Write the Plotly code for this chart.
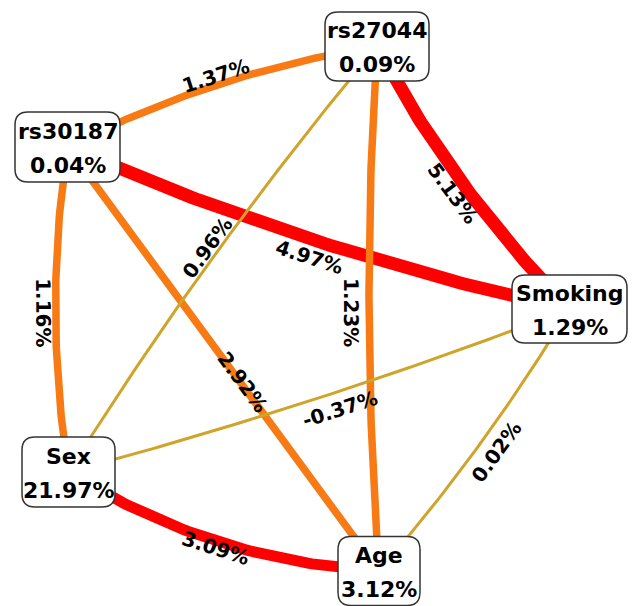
import numpy as np
import plotly.graph_objects as go

# ---------------- data ----------------
node_names = ["rs27044", "rs30187", "Smoking", "Sex", "Age"]
node_pct = [0.09, 0.04, 1.29, 21.97, 3.12]

edge_src = ["rs30187", "rs27044", "rs30187", "rs27044", "rs27044", "rs30187", "rs30187", "Smoking", "Smoking", "Sex"]
edge_dst = ["rs27044", "Smoking", "Smoking", "Sex", "Age", "Sex", "Age", "Sex", "Age", "Age"]
edge_pct = [1.37, 5.13, 4.97, 0.96, 1.23, 1.16, 2.92, -0.37, 0.02, 3.09]

# ---------------- layout (pixels) ----------------
W, H = 632, 606
node_x = [377, 67.5, 569.5, 68.5, 379]
node_y = [46.5, 147, 309, 472, 571]
node_w = [104, 105, 115, 93, 82]
node_h = [69, 70, 68, 70, 69]

edge_bulge = [-13, 12, 13, 9, 9, 12.5, 0, -7, -7, 21]
label_t = [0.5, 0.5, 0.5, 0.5, 0.506, 0.508, 0.557, 0.472, 0.49, 0.5]
label_off = [-9, 14, 17, 10, 18, 12.5, -2, -17, -18, 7]
edge_width = [7.5, 13, 13, 3, 7.5, 7.5, 7.5, 3, 3, 11]

RED, ORANGE, GOLD = "#FF0000", "#F77A14", "#CFA42B"


def edge_color(v):
    if v > 3:
        return RED
    if v > 1:
        return ORANGE
    return GOLD


FONT = "DejaVu Sans"

fig = go.Figure()

idx = {n: i for i, n in enumerate(node_names)}


def bez(p0, c, p2, t):
    t = np.asarray(t)[..., None]
    return (1 - t) ** 2 * p0 + 2 * t * (1 - t) * c + t ** 2 * p2


annotations = []
order = np.argsort([-w for w in edge_width], kind="stable")
for k in order:
    a, b = idx[edge_src[k]], idx[edge_dst[k]]
    p0 = np.array([node_x[a], node_y[a]], float)
    p2 = np.array([node_x[b], node_y[b]], float)
    d = p2 - p0
    L = np.hypot(*d)
    n = np.array([-d[1], d[0]]) / L
    c = (p0 + p2) / 2 + 2 * edge_bulge[k] * n
    pts = bez(p0, c, p2, np.linspace(0, 1, 80))
    fig.add_trace(go.Scatter(
        x=pts[:, 0], y=pts[:, 1], mode="lines",
        line=dict(color=edge_color(edge_pct[k]), width=edge_width[k]),
        hoverinfo="skip", showlegend=False))
    lp = bez(p0, c, p2, label_t[k]) + label_off[k] * n
    ang = np.degrees(np.arctan2(d[1], d[0]))
    if ang > 90:
        ang -= 180
    if ang < -90:
        ang += 180
    annotations.append(dict(
        x=float(lp[0]), y=float(lp[1]), xref="x", yref="y",
        text=f"{edge_pct[k]:.2f}%", showarrow=False, textangle=float(ang),
        xanchor="center", yanchor="middle",
        font=dict(family=FONT, size=20, color="black", weight="bold")))


def rounded_rect(cx, cy, w, h, r):
    x0, x1 = cx - w / 2, cx + w / 2
    y0, y1 = cy - h / 2, cy + h / 2
    return (f"M {x0 + r},{y0} L {x1 - r},{y0} Q {x1},{y0} {x1},{y0 + r} "
            f"L {x1},{y1 - r} Q {x1},{y1} {x1 - r},{y1} "
            f"L {x0 + r},{y1} Q {x0},{y1} {x0},{y1 - r} "
            f"L {x0},{y0 + r} Q {x0},{y0} {x0 + r},{y0} Z")


shapes = []
for i, name in enumerate(node_names):
    shapes.append(dict(type="path", xref="x", yref="y", layer="above",
                       path=rounded_rect(node_x[i], node_y[i], node_w[i], node_h[i], 13),
                       fillcolor="white", line=dict(color="#333333", width=1.5)))
    annotations.append(dict(x=node_x[i], y=node_y[i], xref="x", yref="y", text=name,
                            showarrow=False, xanchor="center", yanchor="middle", yshift=16,
                            font=dict(family=FONT, size=22, color="black", weight="bold")))
    annotations.append(dict(x=node_x[i], y=node_y[i], xref="x", yref="y",
                            text=f"{node_pct[i]:.2f}%",
                            showarrow=False, xanchor="center", yanchor="middle", yshift=-18,
                            font=dict(family=FONT, size=22, color="black", weight="bold")))

fig.update_layout(
    width=W, height=H, autosize=False,
    margin=dict(l=0, r=0, t=0, b=0),
    paper_bgcolor="white", plot_bgcolor="white",
    xaxis=dict(range=[0, W], visible=False, fixedrange=True),
    yaxis=dict(range=[H, 0], visible=False, fixedrange=True),
    shapes=shapes, annotations=annotations, showlegend=False,
)

fig.write_html("out.html")
